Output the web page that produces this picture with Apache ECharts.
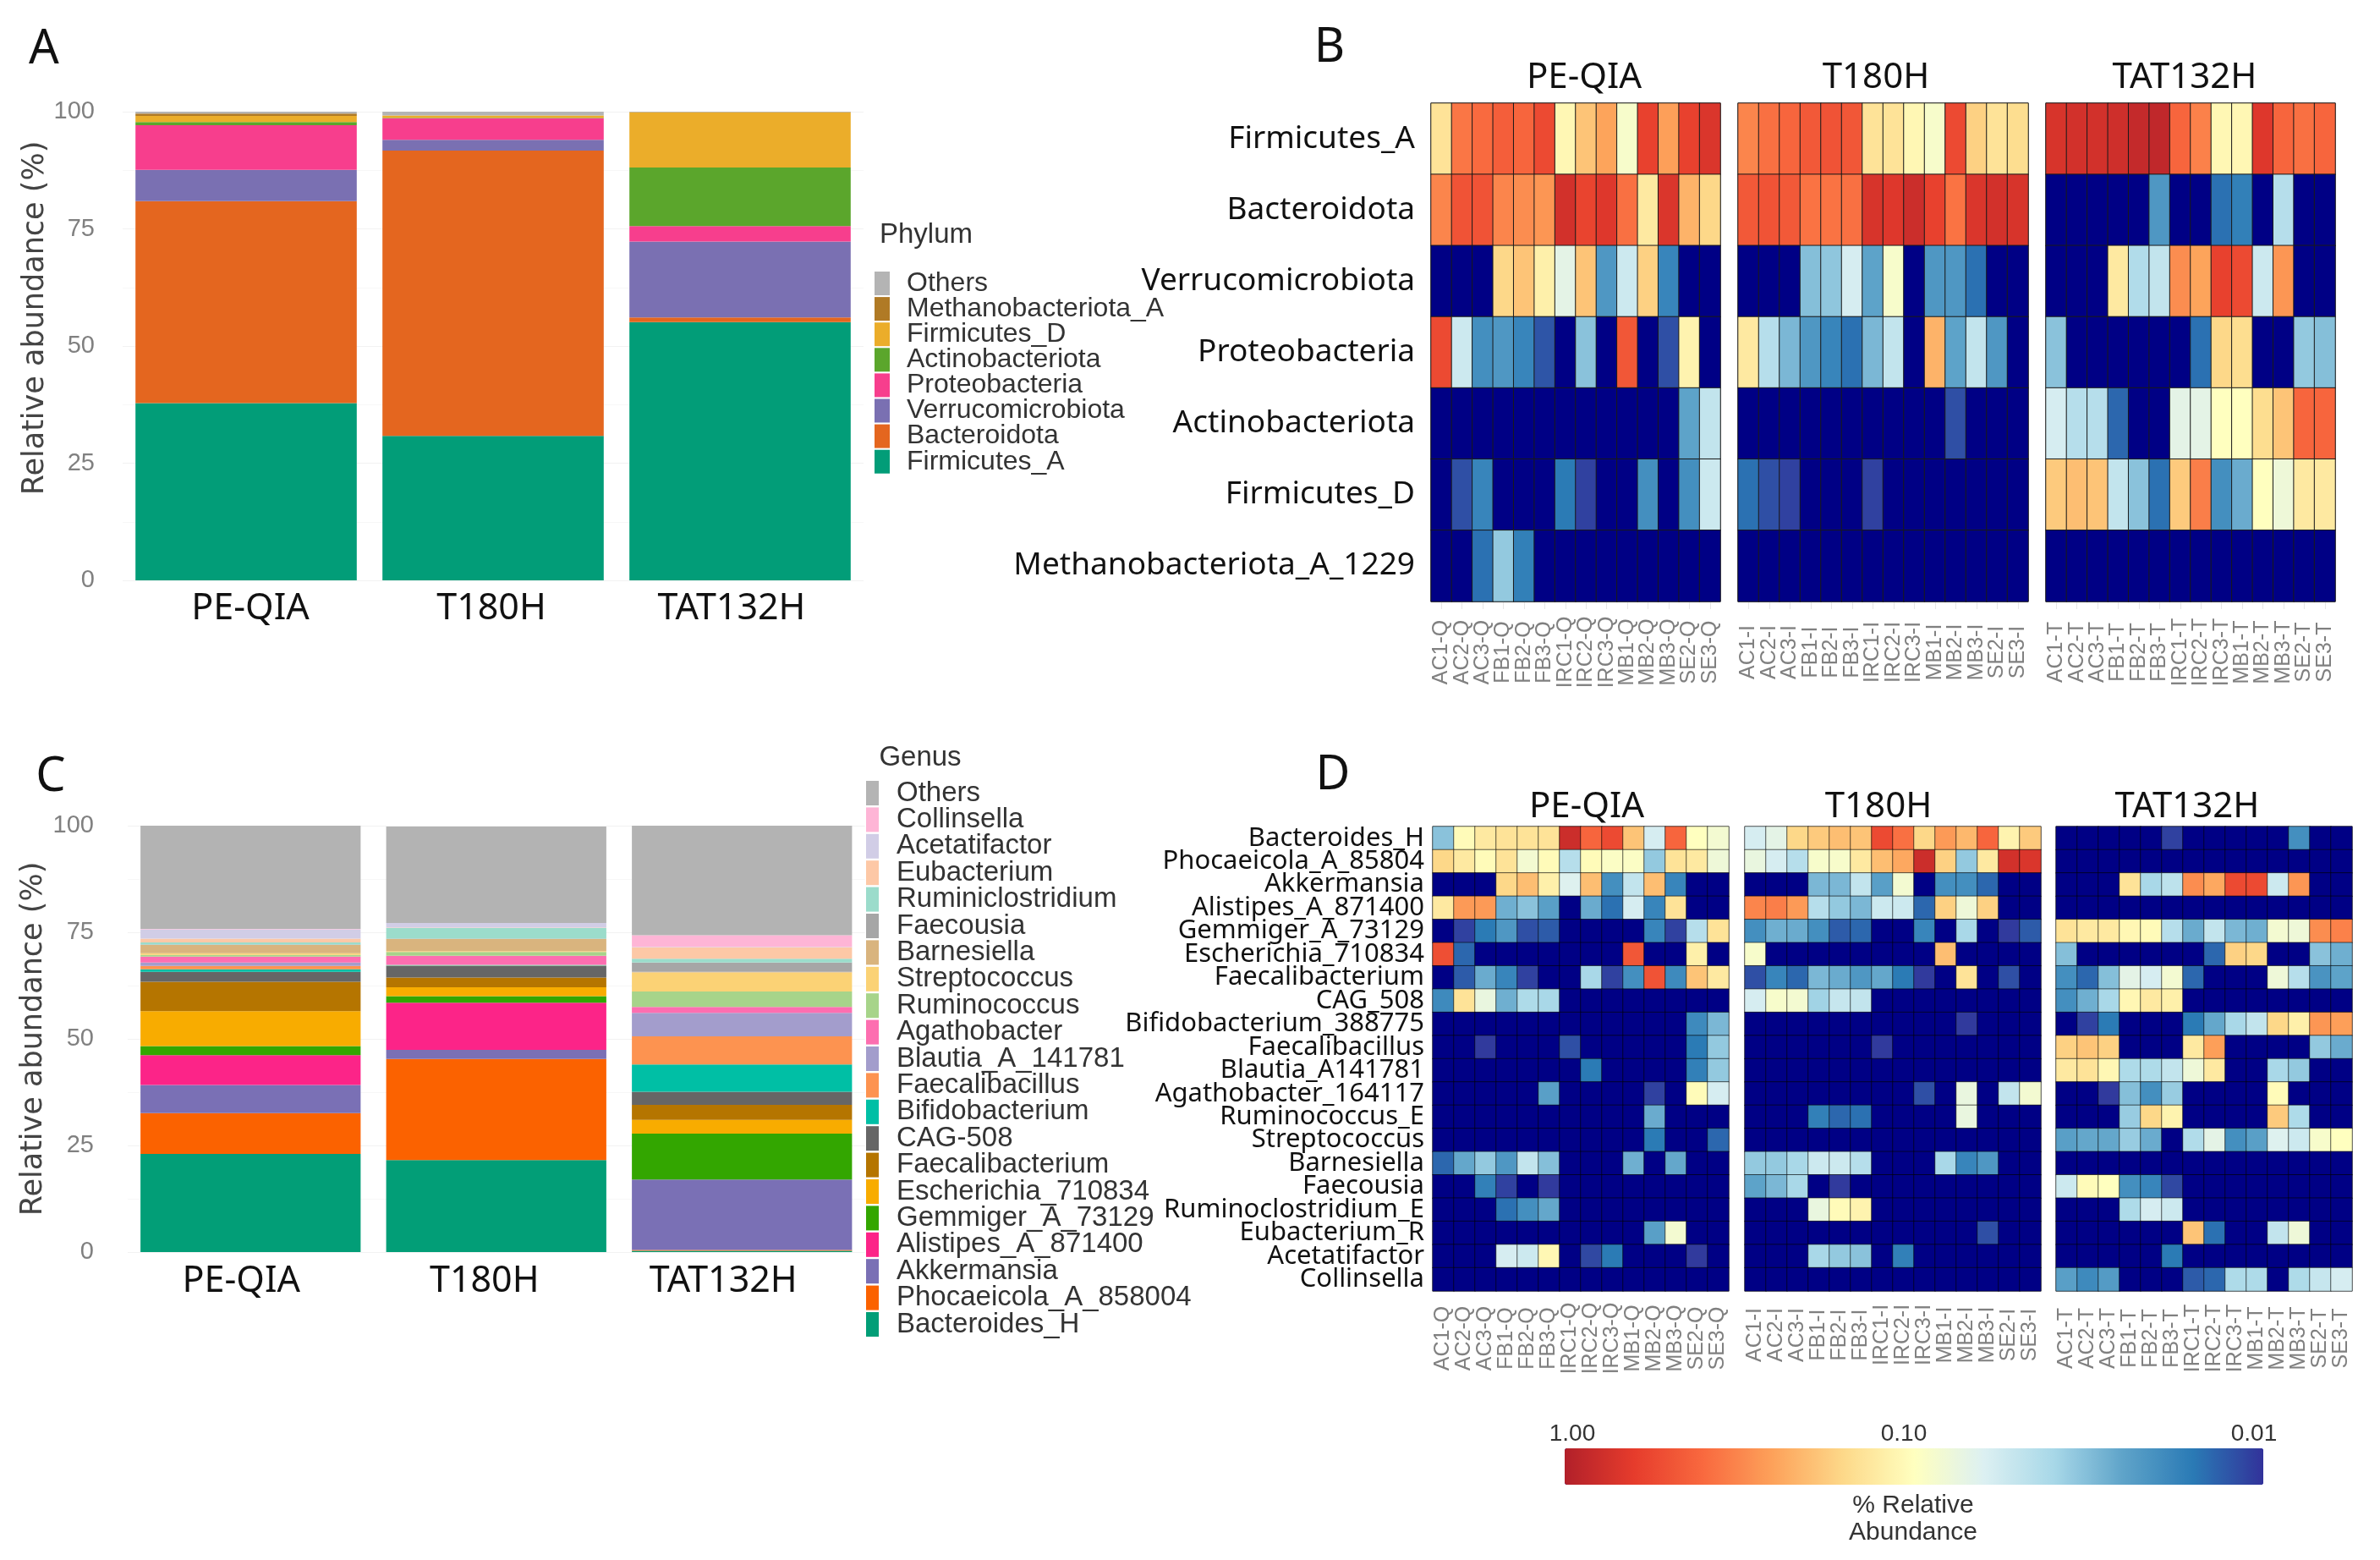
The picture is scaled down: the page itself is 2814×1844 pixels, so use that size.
<!DOCTYPE html>
<html><head><meta charset="utf-8">
<style>html,body{margin:0;padding:0;background:#fff}#c{width:2814px;height:1844px}</style>
<script src="https://cdn.jsdelivr.net/npm/echarts@6/dist/echarts.min.js"></script>
</head><body><div id="c"></div>
<script>
// ---------- data ----------
const groups = ['PE-QIA','T180H','TAT132H'];

const phylumNames = ['Firmicutes_A','Bacteroidota','Verrucomicrobiota','Proteobacteria','Actinobacteriota','Firmicutes_D','Methanobacteriota_A','Others'];
const phylumColors = ['#029d78','#e4661f','#7a70b2','#f73e8d','#5ba62c','#ebad2a','#b07a25','#b4b4b4'];
const phylumPE  = [37.8,43.1,6.7,9.5,0.7,1.3,0.5,0.4];
const phylumT   = [30.8,60.9,2.3,4.6,0.1,0.5,0,0.8];
const phylumTAT = [55.1,1.0,16.2,3.3,12.5,11.7,0.1,0.1];

const genusNames = ['Bacteroides_H','Phocaeicola_A_858004','Akkermansia','Alistipes_A_871400','Gemmiger_A_73129','Escherichia_710834','Faecalibacterium','CAG-508','Bifidobacterium','Faecalibacillus','Blautia_A_141781','Agathobacter','Ruminococcus','Streptococcus','Barnesiella','Faecousia','Ruminiclostridium','Eubacterium','Acetatifactor','Collinsella','Others'];
const genusColors = ['#029e77','#fb6200','#7a70b5','#fc2488','#33a600','#f8ac00','#b57500','#666666','#00bfa5','#fd9350','#a39dcc','#fd6eb0','#a7d48a','#fbd275','#d9b47e','#a6a6a6','#9bdccb','#fdc8a6','#d1cde6','#feb5d6','#b3b3b3'];
const genusPE  = [23.0,9.6,6.6,7.0,2.1,8.2,6.9,2.3,0.6,0.8,0.8,1.4,0.4,0.4,1.9,0.1,0.5,0.9,2.2,0.1,24.2];
const genusT   = [21.6,23.7,2.1,11.1,1.5,2.1,2.3,2.7,0.1,0.1,0.1,2.1,0.9,0.2,2.8,0.1,2.5,0.1,1.1,0,22.6];
const genusTAT = [0.3,0.2,16.5,0,10.8,3.2,3.5,3.1,6.4,6.6,5.5,1.4,3.6,4.5,0.1,2.2,0.9,2.7,0.1,2.7,25.7];

const samplesQ = ['AC1-Q','AC2-Q','AC3-Q','FB1-Q','FB2-Q','FB3-Q','IRC1-Q','IRC2-Q','IRC3-Q','MB1-Q','MB2-Q','MB3-Q','SE2-Q','SE3-Q'];
const samplesI = ['AC1-I','AC2-I','AC3-I','FB1-I','FB2-I','FB3-I','IRC1-I','IRC2-I','IRC3-I','MB1-I','MB2-I','MB3-I','SE2-I','SE3-I'];
const samplesT = ['AC1-T','AC2-T','AC3-T','FB1-T','FB2-T','FB3-T','IRC1-T','IRC2-T','IRC3-T','MB1-T','MB2-T','MB3-T','SE2-T','SE3-T'];

const rowsB = ['Firmicutes_A','Bacteroidota','Verrucomicrobiota','Proteobacteria','Actinobacteriota','Firmicutes_D','Methanobacteriota_A_1229'];
const heatB_PE = [
[.14,.36,.40,.45,.42,.55,.11,.19,.25,.09,.60,.26,.60,.70],
[.32,.50,.50,.32,.30,.28,.75,.58,.68,.38,.13,.70,.22,.16],
[0,0,0,.16,.19,.12,.07,.19,.022,.055,.17,.018,0,0],
[.55,.055,.02,.022,.018,.0125,0,.033,0,.48,0,.012,.115,0],
[0,0,0,0,0,0,0,0,0,0,0,0,.025,.05],
[0,.012,.018,0,0,0,.016,.011,0,0,.02,0,.02,.055],
[0,0,.015,.035,.017,0,0,0,0,0,0,0,0,0]];
const heatB_T = [
[.32,.38,.42,.47,.50,.48,.14,.14,.11,.09,.55,.17,.14,.15],
[.47,.50,.47,.37,.37,.38,.72,.68,.80,.60,.37,.70,.75,.72],
[0,0,0,.032,.034,.06,.025,.09,0,.022,.022,.015,0,0],
[.13,.045,.03,.022,.018,.015,.03,.05,0,.22,.025,.05,.022,0],
[0,0,0,0,0,0,0,0,0,0,.012,0,0,0],
[.015,.012,.011,0,0,0,.011,0,0,0,0,0,0,0],
[0,0,0,0,0,0,0,0,0,0,0,0,0,0]];
const heatB_TAT = [
[.72,.75,.75,.78,.85,.88,.42,.33,.11,.11,.68,.42,.38,.42],
[0,0,0,0,0,.022,0,0,.015,.017,0,.045,0,0],
[0,0,0,.13,.043,.05,.30,.25,.60,.55,.055,.28,0,0],
[.033,0,0,0,0,0,0,.015,.16,.15,0,0,.035,.032],
[.06,.045,.045,.014,0,0,.07,.07,.10,.10,.15,.19,.42,.42],
[.18,.20,.19,.05,.033,.015,.18,.34,.02,.027,.10,.08,.13,.13],
[0,0,0,0,0,0,0,0,0,0,0,0,0,0]];

const rowsD = ['Bacteroides_H','Phocaeicola_A_85804','Akkermansia','Alistipes_A_871400','Gemmiger_A_73129','Escherichia_710834','Faecalibacterium','CAG_508','Bifidobacterium_388775','Faecalibacillus','Blautia_A141781','Agathobacter_164117','Ruminococcus_E','Streptococcus','Barnesiella','Faecousia','Ruminoclostridium_E','Eubacterium_R','Acetatifactor','Collinsella'];
const heatD_PE = [
[.033,.105,.13,.14,.14,.14,.80,.42,.55,.19,.06,.42,.10,.085],
[.16,.13,.105,.14,.085,.105,.045,.105,.095,.095,.035,.14,.13,.08],
[0,0,0,.16,.20,.12,.065,.20,.02,.05,.20,.018,0,0],
[.13,.27,.27,.028,.033,.024,0,.027,.015,.06,.018,.14,0,0],
[0,.011,.016,.022,.012,.013,0,0,0,0,.018,.011,.045,.14],
[.52,.014,0,0,0,0,0,0,0,.48,0,0,.12,0],
[0,.013,.027,.018,.011,0,0,.04,.011,.02,.50,.019,.19,.13],
[.019,.14,.075,.028,.042,.04,0,0,0,0,0,0,0,0],
[0,0,0,0,0,0,0,0,0,0,0,0,.019,.03],
[0,0,.0105,0,0,0,.012,0,0,0,0,0,.016,.035],
[0,0,0,0,0,0,0,.016,0,0,0,0,.017,.035],
[0,0,0,0,0,.024,0,0,0,0,.011,0,.105,.06],
[0,0,0,0,0,0,0,0,0,0,.027,0,0,0],
[0,0,0,0,0,0,0,0,0,0,.016,0,0,.014],
[.014,.026,.035,.022,.05,.032,0,0,0,.028,0,.026,0,0],
[0,0,.017,.011,0,.0105,0,0,0,0,0,0,0,0],
[0,0,0,.015,.02,.026,0,0,0,0,0,0,0,0],
[0,0,0,0,0,0,0,0,0,0,.024,.085,0,0],
[0,0,0,.06,.055,.11,0,.0115,.016,0,0,0,.0105,0],
[0,0,0,0,0,0,0,0,0,0,0,0,0,0]];
const heatD_T = [
[.06,.07,.16,.18,.20,.19,.55,.38,.16,.27,.21,.42,.115,.18],
[.075,.06,.045,.09,.09,.13,.20,.24,.80,.17,.035,.13,.75,.70],
[0,0,0,.03,.03,.05,.024,.085,0,.02,.02,.014,0,0],
[.32,.34,.27,.045,.035,.03,.055,.055,.014,.17,.08,.17,0,0],
[.02,.028,.027,.02,.013,.014,0,0,.018,0,.04,0,.0105,.013],
[.09,0,0,0,0,0,0,0,0,.20,0,0,0,0],
[.012,.018,.014,.03,.027,.022,.026,.016,.0105,0,.14,0,.012,0],
[.06,.09,.085,.038,.052,.05,0,0,0,0,0,0,0,0],
[0,0,0,0,0,0,0,0,0,0,.0105,0,0,0],
[0,0,0,0,0,0,.0105,0,0,0,0,0,0,0],
[0,0,0,0,0,0,0,0,0,0,0,0,0,0],
[0,0,0,0,0,0,0,0,.012,0,.075,0,.05,.085],
[0,0,0,.017,.014,.015,0,0,0,0,.075,0,0,0],
[0,0,0,0,0,0,0,0,0,0,0,0,0,0],
[.035,.035,.04,.055,.055,.045,0,0,0,.04,.018,.022,0,0],
[.025,.03,.04,0,.0105,0,0,0,0,0,0,0,0,0],
[0,0,0,.075,.105,.115,0,0,0,0,0,0,0,0],
[0,0,0,0,0,0,0,0,0,0,0,.012,0,0],
[0,0,0,.04,.035,.033,0,.017,0,0,0,0,0,0],
[0,0,0,0,0,0,0,0,0,0,0,0,0,0]];
const heatD_TAT = [
[0,0,0,0,0,.011,0,0,0,0,0,.02,0,0],
[0,0,0,0,0,0,0,0,0,0,0,0,0,0],
[0,0,0,.14,.04,.048,.30,.24,.55,.55,.055,.28,0,0],
[0,0,0,0,0,0,0,0,0,0,0,0,0,0],
[.14,.13,.13,.11,.105,.045,.027,.05,.03,.028,.085,.08,.30,.33],
[.032,0,0,0,0,0,0,.014,.17,.16,0,0,.033,.028],
[.02,.014,.032,.07,.06,.085,.014,0,0,0,.08,.045,.021,.025],
[.02,.028,.04,.11,.13,.12,0,0,0,0,0,0,0,0],
[0,.011,.016,0,0,0,.016,.026,.04,.05,.16,.12,.28,.26],
[.17,.19,.17,0,0,0,.13,.26,0,0,0,0,.035,.027],
[.13,.14,.11,.042,.042,.05,.08,.13,0,0,.04,.035,0,0],
[0,0,.0105,.032,.02,.036,0,0,0,0,.105,0,0,0],
[0,0,0,.036,.16,.115,0,0,0,0,.18,.042,0,0],
[.024,.026,.026,.036,.027,0,.043,.07,.02,.024,.065,.055,.09,.10],
[0,0,0,0,0,0,0,0,0,0,0,0,0,0],
[.055,.105,.10,.02,.018,.0115,0,0,0,0,0,0,0,0],
[0,0,0,.042,.06,.055,0,0,0,0,0,0,0,0],
[0,0,0,0,0,0,.19,.015,0,0,.05,.08,0,0],
[0,0,0,0,0,.016,0,0,0,0,0,0,0,0],
[.024,.019,.023,0,0,0,.013,.014,.042,.042,0,.042,.052,.06]];

const scaleColors = ['#32329a','#2a7ab5','#5ea3c9','#a8d8e8','#dcf0f2','#ffffbf','#fdd98a','#fda35b','#f96a3f','#e63c2c','#b2202a'];
const scaleTicks = ['1.00','0.10','0.01'];

// ---------- build ----------
const sansA = '"Liberation Sans"', sansC = '"Noto Sans"';
const grids=[], xAxes=[], yAxes=[], series=[];

function barPanel(g, cats, shifts, names, colors, vals, stackId){
  const i=grids.length;
  grids.push(g);
  xAxes.push({gridIndex:i,type:'category',
    data:cats.map((c,k)=>({value:c,textStyle:{padding:shifts[k]<0?[0,-2*shifts[k],0,0]:[0,0,0,2*shifts[k]]}})),
    axisLine:{show:false},axisTick:{show:false},splitLine:{show:false},
    axisLabel:{interval:0,margin:g.lm,verticalAlign:'middle',fontFamily:sansC,fontSize:43,color:'#111'}});
  yAxes.push({gridIndex:i,type:'value',min:0,max:100,interval:25,
    name:'Relative abundance (%)',nameLocation:'middle',nameRotate:90,nameGap:g.ng,
    nameTextStyle:{fontFamily:'"DejaVu Sans"',fontSize:35,color:'#444',padding:g.np},
    axisLine:{show:false},axisTick:{show:false},
    axisLabel:{margin:g.ym,fontFamily:sansA,fontSize:29,color:'#808080'},
    splitLine:{lineStyle:{color:'#f2f2f2',width:1}},
    minorTick:{splitNumber:2,show:false},minorSplitLine:{show:true,lineStyle:{color:'#f7f7f7',width:1}}});
  names.forEach((n,k)=>series.push({type:'bar',name:n,stack:stackId,xAxisIndex:i,yAxisIndex:i,
    barWidth:'89.6%',itemStyle:{color:colors[k]},data:vals.map(v=>v[k])}));
}
barPanel({left:145,top:132,width:876,height:554,lm:12,ym:33,ng:83,np:[0,0,0,66]},groups,[5,-2,-10],phylumNames,phylumColors,[phylumPE,phylumT,phylumTAT],'A');
barPanel({left:151,top:976,width:871.5,height:504,lm:13,ym:40,ng:94,np:[0,0,0,0]},groups,[-11,-14,-22],genusNames,genusColors,[genusPE,genusT,genusTAT],'C');

const heatSeries=[];
function heatPanel(g, rows, samples, matrix, showRows, rowFont, rowMargin, labelMargin, tick, border){
  const i=grids.length;
  grids.push(g);
  xAxes.push({gridIndex:i,type:'category',data:samples,
    axisLine:{show:false},splitLine:{show:false},
    axisTick:{show:tick,alignWithLabel:true,length:9,lineStyle:{color:'#e6e6e6'}},
    axisLabel:{interval:0,rotate:90,align:'center',verticalAlign:'middle',margin:labelMargin,fontFamily:sansA,fontSize:25,color:'#808080'}});
  yAxes.push({gridIndex:i,type:'category',data:rows,inverse:true,show:showRows,
    axisLine:{show:false},axisTick:{show:false},splitLine:{show:false},
    axisLabel:{interval:0,margin:rowMargin,fontFamily:sansC,fontSize:rowFont,color:'#111'}});
  const data=[];
  matrix.forEach((r,y)=>r.forEach((v,x)=>data.push([x,y,v>0?Math.log10(v):-3])));
  heatSeries.push(series.length);
  series.push({type:'heatmap',xAxisIndex:i,yAxisIndex:i,data,progressive:0,
    itemStyle:{borderColor:border,borderWidth:1}});
}
const bTop={top:122,height:589}, dTop={top:977,height:549};
heatPanel({left:1692,width:342,...bTop,show:true,borderColor:'#888',borderWidth:1},rowsB,samplesQ,heatB_PE,true,37,19,60,true,'#1a1a1a');
heatPanel({left:2055,width:343,...bTop,show:true,borderColor:'#888',borderWidth:1},rowsB,samplesI,heatB_T,false,37,19,60,true,'#1a1a1a');
heatPanel({left:2419,width:342,...bTop,show:true,borderColor:'#888',borderWidth:1},rowsB,samplesT,heatB_TAT,false,37,19,60,true,'#1a1a1a');
heatPanel({left:1694,width:350,...dTop,show:true,borderColor:'#999',borderWidth:1},rowsD,samplesQ,heatD_PE,true,31,10,56,false,'rgba(0,0,0,0.6)');
heatPanel({left:2063,width:350,...dTop,show:true,borderColor:'#999',borderWidth:1},rowsD,samplesI,heatD_T,false,31,10,52,false,'rgba(0,0,0,0.6)');
heatPanel({left:2431,width:350,...dTop,show:true,borderColor:'#999',borderWidth:1},rowsD,samplesT,heatD_TAT,false,31,10,56,false,'rgba(0,0,0,0.6)');

function txt(text,left,top,size,family,color,weight){
  return {text,left,top,textAlign:'center',padding:0,
    textStyle:{fontFamily:family,fontSize:size,color:color||'#111',fontWeight:weight||'normal'}};
}
const titles=[
  txt('A',52,31,56,sansC),txt('B',1572,29,56,sansC),txt('C',60,891,56,sansC),txt('D',1576,889,56,sansC),
  txt(groups[0],1873,71,42,sansC),txt(groups[1],2218,71,42,sansC),txt(groups[2],2583,71,42,sansC),
  txt(groups[0],1876,933,42,sansC),txt(groups[1],2221,933,42,sansC),txt(groups[2],2586,933,42,sansC),
  txt('Phylum',1095,261,33,sansA,'#333'),txt('Genus',1088,879,33,sansA,'#333'),
  txt(scaleTicks[0],1859,1681,28,sansA,'#333'),txt(scaleTicks[1],2251,1681,28,sansA,'#333'),txt(scaleTicks[2],2665,1681,28,sansA,'#333'),
  txt('% Relative',2262,1765,30,sansA,'#333'),txt('Abundance',2262,1797,30,sansA,'#333')
];

const option={
  animation:false,backgroundColor:'#fff',
  title:titles,grid:grids,xAxis:xAxes,yAxis:yAxes,series,
  legend:[
    {orient:'vertical',left:1034,top:319,padding:0,icon:'rect',itemWidth:18,itemHeight:28,itemGap:-1.9,selectedMode:false,
     data:phylumNames.slice().reverse(),textStyle:{fontFamily:sansA,fontSize:32,color:'#333',lineHeight:28,padding:[0,0,0,15]}},
    {orient:'vertical',left:1024,top:921,padding:0,icon:'rect',itemWidth:15,itemHeight:29,itemGap:-1.6,selectedMode:false,
     data:genusNames.slice().reverse(),textStyle:{fontFamily:sansA,fontSize:33,color:'#333',lineHeight:29,padding:[0,0,0,16]}}
  ],
  visualMap:{type:'continuous',show:true,seriesIndex:heatSeries,min:-2,max:0,range:[-1.9999,0],calculable:false,orient:'horizontal',inverse:true,
    left:1850,top:1712,padding:0,itemWidth:43,itemHeight:826,inRange:{color:scaleColors},outOfRange:{color:'#000085'}}
};
const chart=echarts.init(document.getElementById('c'),null,{renderer:'canvas',width:2814,height:1844});
chart.setOption(option);
</script></body></html>
